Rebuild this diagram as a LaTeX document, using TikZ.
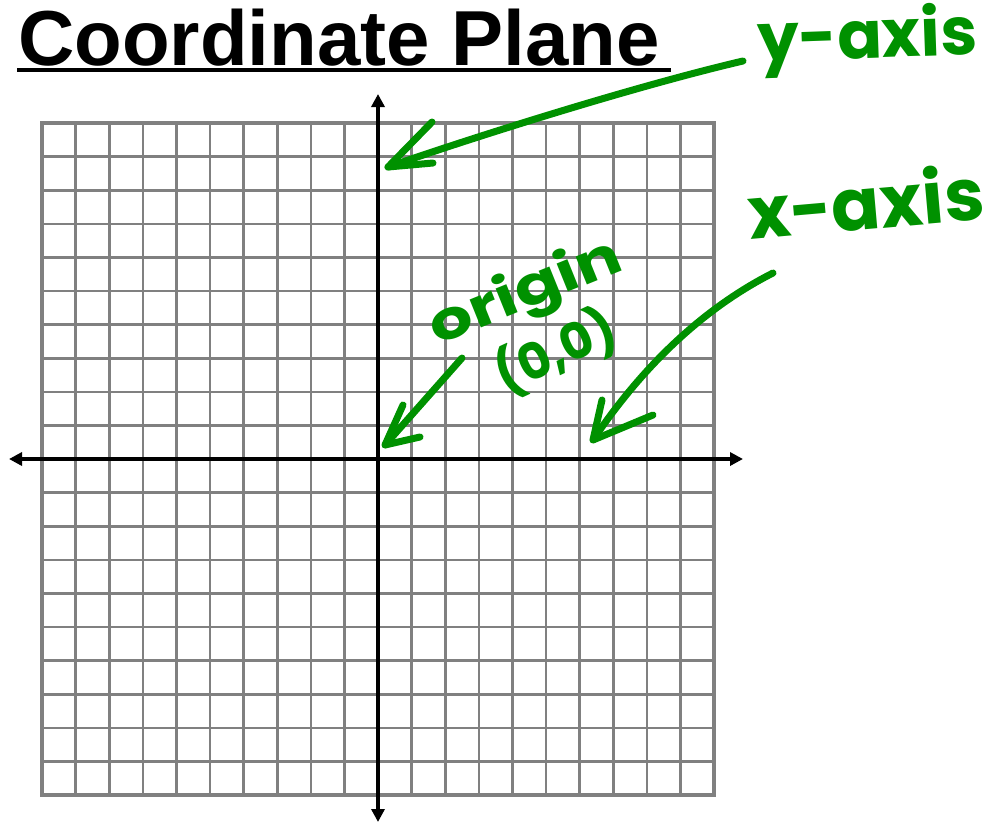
\documentclass[tikz,border=0pt]{standalone}
\usepackage{fontspec}
\usetikzlibrary{arrows.meta,calc}
\newfontfamily\titlefont{Liberation Sans}
\newfontfamily\handfont{Poppins}
\definecolor{marker}{RGB}{0,145,0}
\definecolor{gridgray}{RGB}{128,128,128}
\tikzset{
  gridline/.style={draw=gridgray,line width=2.6pt},
  axisline/.style={{Triangle[length=13pt,width=13pt]}-{Triangle[length=13pt,width=13pt]},line width=3.5pt},
  ink/.style={draw=marker,line width=7pt,line cap=round,line join=round},
  hand/.style={text=marker,inner sep=0pt},
}

\begin{document}
\begin{tikzpicture}[x=1pt,y=-1pt]
  \useasboundingbox (0,0) rectangle (1001,822);
  % title
  \node[anchor=base west,inner sep=0pt,font=\titlefont\bfseries\fontsize{78}{78}\selectfont] (title) at (18,65) {Coordinate Plane};
  \draw[line width=4pt] ([xshift=-1pt,yshift=-5pt]title.base west) -- ([xshift=11pt,yshift=-5pt]title.base east);
  % grid
  \foreach \k in {0,...,20}{
    \draw[gridline] (42+33.6*\k,123) -- (42+33.6*\k,795);
    \draw[gridline] (42,123+33.6*\k) -- (714,123+33.6*\k);
  }
  \draw[gridline,line width=3.5pt] (42,123) rectangle (714,795);
  % axes
  \coordinate (xl) at (9,459);
  \coordinate (xr) at (743,459);
  \coordinate (yt) at (378,94);
  \coordinate (yb) at (378,822);
  \draw[axisline] (xl) -- (xr);
  \draw[axisline] (yb) -- (yt);
  % notes
  \node[hand,font=\handfont\bfseries\fontsize{66}{66}\selectfont,anchor=base west,rotate=2] (ylab) at (758,62) {y-axis};
  \node[hand,font=\handfont\bfseries\fontsize{72}{72}\selectfont,anchor=base west,rotate=5] (xlab) at (750,240) {x-axis};
  \node[hand,font=\handfont\bfseries\fontsize{54}{54}\selectfont,rotate=22] (olab) at (526,294) {\scalebox{1.25}[1]{origin}};
  \node[hand,font=\handfont\bfseries\fontsize{50}{50}\selectfont,rotate=25] (zlab) at (556,352) {(0,0)};
  \coordinate (yfrom) at (743,61);
  \coordinate (yto) at (388,167);
  \coordinate (xfrom) at (773,273);
  \coordinate (xto) at (593,440);
  \coordinate (ofrom) at (462,358);
  \coordinate (oto) at (385,445);
  \draw[ink] (yfrom) .. controls (640,85) and (480,135) .. (yto);
  \draw[ink] ([shift={(44,-45)}]yto) -- (yto) -- ([shift={(45,-4)}]yto);
  \draw[ink] (xfrom) .. controls (700,310) and (640,370) .. (xto);
  \draw[ink] ([shift={(9,-40)}]xto) -- (xto) -- ([shift={(60,-25)}]xto);
  \draw[ink] (ofrom) -- (oto);
  \draw[ink] ([shift={(18,-40)}]oto) -- (oto) -- ([shift={(35,-8)}]oto);
\end{tikzpicture}
\end{document}
